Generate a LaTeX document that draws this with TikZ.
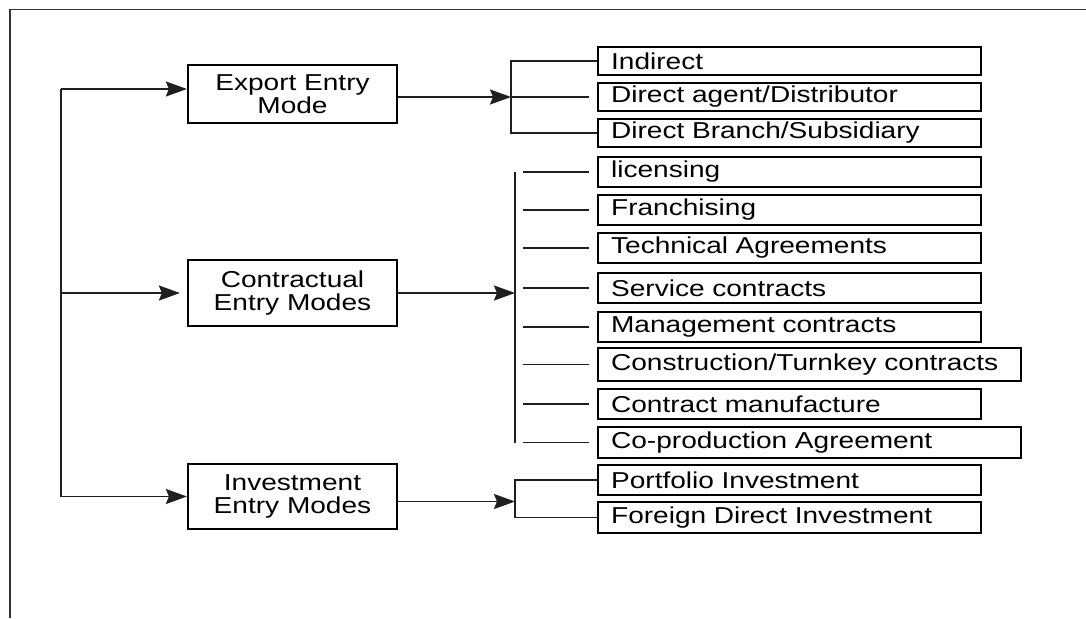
\documentclass[tikz,border=0pt]{standalone}
\usepackage{fontspec}
\setmainfont{Liberation Sans}[FakeStretch=1.22]
\usetikzlibrary{arrows.meta}
\begin{document}
\begin{tikzpicture}[x=1pt,y=-1pt,
  lbox/.style={draw=black, line width=2.2pt, minimum width=209pt, inner sep=0pt, align=center, font=\fontsize{23pt}{23.5pt}\selectfont},
  rbox/.style={draw=black, line width=2.2pt, anchor=west, inner xsep=13pt, inner ysep=0pt, text width=357pt, align=left, font=\fontsize{23pt}{23.5pt}\selectfont},
  wbox/.style={rbox, text width=397pt},
  conn/.style={line width=1.8pt, draw=black!88},
  arr/.style={conn, -{Stealth[length=21pt,width=15pt,inset=3pt]}},
  frame/.style={line width=1.8pt, draw=black!80}]
\useasboundingbox (0,0) rectangle (1086,618);
% frame
\draw[frame] (1086,9.5) -- (10,9.5) -- (10,618);
% left boxes
\node[lbox, minimum height=58pt] (exp) at (292.5,94) {Export Entry\\Mode};
\node[lbox, minimum height=66pt] (con) at (292.5,293) {Contractual\\Entry Modes};
\node[lbox, minimum height=65pt] (inv) at (292.5,496.5) {Investment\\Entry Modes};
% right boxes
\node[rbox, minimum height=28pt] (ind) at (597,61) {Indirect};
\node[rbox, minimum height=28pt] (dag) at (597,97) {Direct agent/Distributor};
\node[rbox, minimum height=28pt] (dbr) at (597,133) {Direct Branch/Subsidiary};
\node[rbox, minimum height=30pt] (lic) at (597,172) {licensing};
\node[rbox, minimum height=30pt] (fra) at (597,210) {Franchising};
\node[rbox, minimum height=30pt] (tec) at (597,248) {Technical Agreements};
\node[rbox, minimum height=30pt] (ser) at (597,288) {Service contracts};
\node[rbox, minimum height=30pt] (man) at (597,327) {Management contracts};
\node[wbox, minimum height=33pt] (cst) at (597,364.5) {Construction/Turnkey contracts};
\node[rbox, minimum height=30pt] (cma) at (597,404) {Contract manufacture};
\node[wbox, minimum height=31pt] (cop) at (597,442.5) {Co-production Agreement};
\node[rbox, minimum height=30pt] (por) at (597,480) {Portfolio Investment};
\node[rbox, minimum height=31pt] (fdi) at (597,517.5) {Foreign Direct Investment};
% coordinates
\coordinate (t) at (61,0);
\coordinate (b1) at (511,0);
\coordinate (b2) at (515,0);
\coordinate (b3) at (515,0);
\coordinate (tt) at ([yshift=5pt]exp.west);
\coordinate (io) at ([yshift=-5pt]inv.east);
% trunk and arrows into left boxes
\draw[arr] (t |- tt) -- (tt);
\draw[arr] (t |- tt) |- (inv.west);
\draw[arr, shorten >=7pt] (t |- con.west) -- (con.west);
% export group
\draw[arr] (exp.east |- dag.west) -- (b1 |- dag.west);
\draw[conn] (ind.west) -- (b1 |- ind.west) -- (b1 |- dbr.west) -- (dbr.west);
\draw[conn] (b1 |- dag.west) -- ([xshift=-8pt]dag.west);
% contractual group
\draw[arr] (con.east) -- (b2 |- con.east);
\draw[conn] (b2 |- lic.west) -- (b2 |- cop.west);
\foreach \n in {lic,fra,tec,ser,man,cst,cma,cop}
  \draw[conn] ([xshift=8pt]b2 |- \n.west) -- ([xshift=-8pt]\n.west);
% investment group
\draw[arr] (io) -- (b3 |- io);
\draw[conn] (por.west) -- (b3 |- por.west) -- (b3 |- fdi.west) -- (fdi.west);
\end{tikzpicture}
\end{document}
